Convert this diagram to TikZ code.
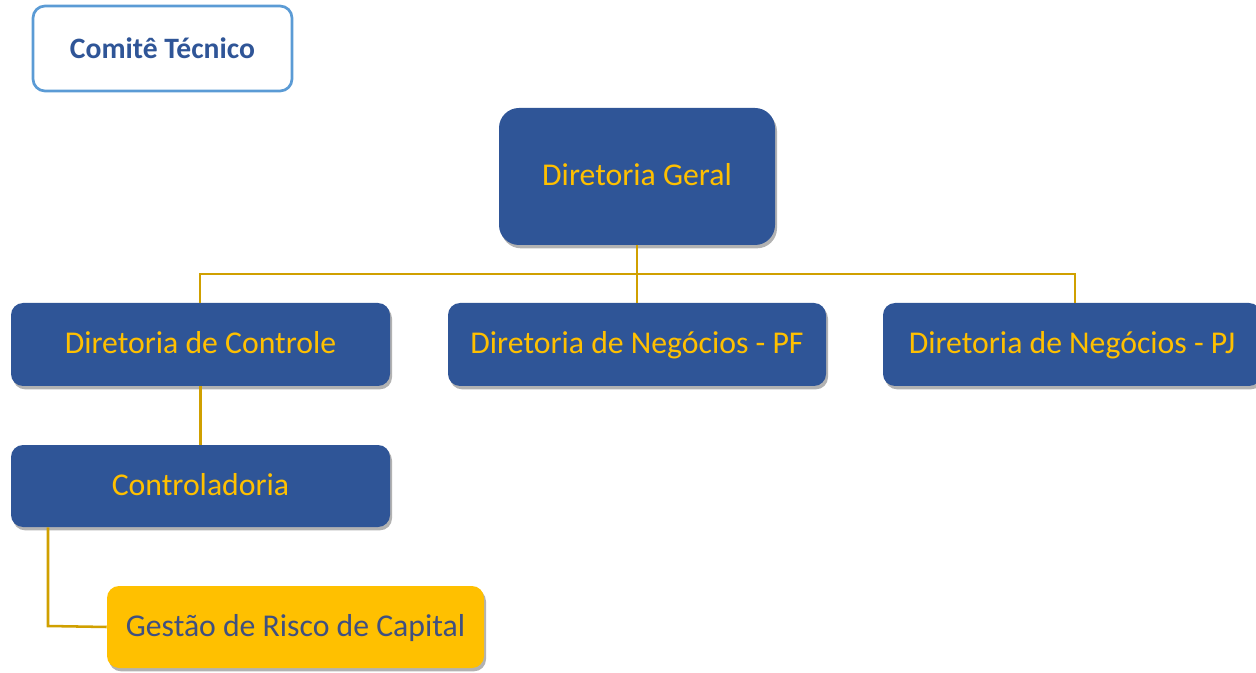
\documentclass[tikz,border=0pt]{standalone}
\usepackage{fontspec}
\setmainfont{Carlito}
\usetikzlibrary{shadows}
\definecolor{boxblue}{HTML}{2F5597}
\definecolor{gold}{HTML}{FFC000}
\definecolor{linegold}{HTML}{D0A000}
\definecolor{frameblue}{HTML}{5B9BD5}
\definecolor{titleblue}{HTML}{2F5597}
\definecolor{darktext}{HTML}{3F5081}
\tikzset{
  boxtext/.style={font=\fontsize{23.8}{28}\selectfont, inner sep=0pt, text height=18pt, text depth=4.5pt},
  unitbox/.style={boxtext, draw=none, fill=boxblue, text=gold, rounded corners=9pt,
    drop shadow={shadow xshift=1.5pt, shadow yshift=-2.5pt, opacity=0.3, fill=black}},
  conn/.style={draw=linegold, line width=1.9pt},
}
\begin{document}
\begin{tikzpicture}[x=0.75pt, y=-0.75pt]
\useasboundingbox (0,0) rectangle (1256,673);
% Comite
\node[draw=frameblue, line width=2pt, rounded corners=9pt, minimum width=259*0.75pt, minimum height=85*0.75pt, text=titleblue, font=\bfseries\fontsize{22.2}{26}\selectfont, inner sep=0pt] (comite) at (162.5,48.5) {Comitê Técnico};
% Diretoria Geral
\node[unitbox, rounded corners=15pt, minimum width=276*0.75pt, minimum height=137*0.75pt] (dg) at (637,176.5) {};
\node[boxtext, text=gold] (dgt) at (637,177) {Diretoria Geral};
% row 2
\node[unitbox, minimum width=379*0.75pt, minimum height=83*0.75pt] (dc) at (200.5,344.5) {Diretoria de Controle};
\node[unitbox, minimum width=378*0.75pt, minimum height=83*0.75pt] (pf) at (637,344.5) {Diretoria de Negócios - PF};
\node[unitbox, minimum width=378*0.75pt, minimum height=83*0.75pt] (pj) at (1072,344.5) {Diretoria de Negócios - PJ};
% Controladoria
\node[unitbox, minimum width=379*0.75pt, minimum height=82*0.75pt] (ctrl) at (200.5,486) {Controladoria};
% Gestao
\node[unitbox, fill=gold, text=darktext, minimum width=377*0.75pt, minimum height=82*0.75pt] (gr) at (295.5,627) {Gestão de Risco de Capital};
% connectors
\coordinate (hl) at (200,274);
\coordinate (hr) at (1075,274);
\draw[conn] (dg.south) -- (pf.north);
\draw[conn] (dc.north -| hl) -- (hl) -- (hr) -- (pj.north -| hr);
\draw[conn] (dc.south) -- (ctrl.north);
\coordinate (gc) at (48,626);
\draw[conn] (ctrl.south -| gc) -- (gc) -- (gr.west);
\end{tikzpicture}
\end{document}
